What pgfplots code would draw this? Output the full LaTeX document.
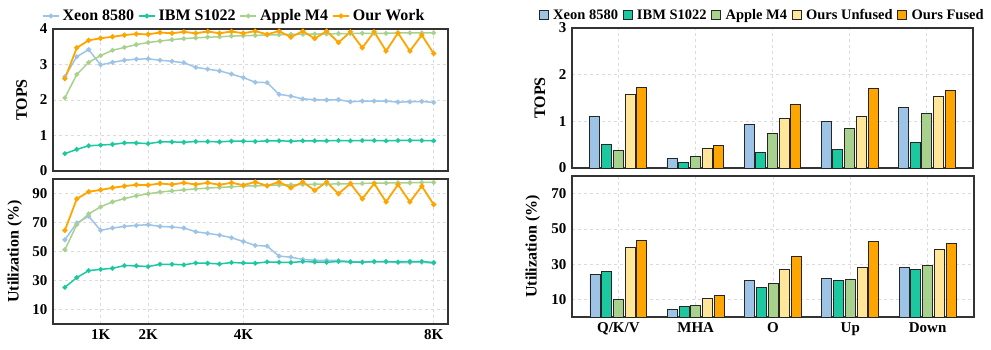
\documentclass[border=0pt]{standalone}
\usepackage{fontspec}
\setmainfont{Liberation Serif}
\usepackage{pgfplots}
\pgfplotsset{compat=1.18}
\usepackage{pgfplotstable}

\definecolor{cXeon}{HTML}{9DC3E6}
\definecolor{cIBM}{HTML}{1CC8A0}
\definecolor{cApple}{HTML}{A9D18E}
\definecolor{cOurs}{HTML}{FFA500}
\definecolor{cUnf}{HTML}{FFE699}

% GEMM sweep: throughput (TOPS) per matrix size
\pgfplotstableread{
n     xeon  ibm   apple ours
256   2.66  0.49  2.06  2.60
512   3.22  0.61  2.72  3.47
768   3.42  0.71  3.06  3.68
1024  2.99  0.73  3.25  3.74
1280  3.06  0.75  3.40  3.78
1536  3.12  0.79  3.48  3.83
1792  3.15  0.79  3.56  3.86
2048  3.16  0.77  3.62  3.85
2304  3.12  0.82  3.66  3.90
2560  3.09  0.82  3.70  3.88
2816  3.05  0.81  3.73  3.92
3072  2.92  0.83  3.75  3.88
3328  2.87  0.83  3.77  3.93
3584  2.82  0.82  3.78  3.88
3840  2.73  0.84  3.80  3.93
4096  2.63  0.84  3.81  3.88
4352  2.50  0.83  3.82  3.94
4608  2.49  0.85  3.83  3.85
4864  2.16  0.85  3.84  3.94
5120  2.11  0.84  3.85  3.77
5376  2.03  0.85  3.85  3.94
5632  2.01  0.85  3.86  3.73
5888  2.00  0.85  3.86  3.94
6144  2.01  0.86  3.87  3.62
6400  1.95  0.85  3.87  3.92
6656  1.97  0.86  3.88  3.47
6912  1.97  0.86  3.88  3.92
7168  1.97  0.85  3.88  3.38
7424  1.94  0.86  3.89  3.89
7680  1.95  0.86  3.89  3.38
7936  1.96  0.86  3.89  3.83
8192  1.93  0.85  3.89  3.31
}\sweepTops

% GEMM sweep: utilization (%) per matrix size
\pgfplotstableread{
n     xeon  ibm   apple ours
256   58.1  25.3  51.2  64.6
512   69.7  32.0  68.5  86.3
768   74.3  36.8  75.9  91.2
1024  64.6  37.7  80.8  92.5
1280  66.2  38.4  84.2  93.9
1536  67.3  40.3  86.5  95.1
1792  68.0  40.1  88.4  96.0
2048  68.5  39.6  89.8  95.8
2304  67.3  41.2  91.0  96.9
2560  66.9  41.2  91.8  96.2
2816  66.2  40.8  92.5  97.4
3072  63.6  42.1  93.2  96.2
3328  62.5  41.9  93.7  97.4
3584  61.3  41.4  94.2  96.0
3840  59.5  42.4  94.6  97.4
4096  56.9  42.1  95.1  95.8
4352  54.2  41.9  95.3  97.9
4608  53.7  42.8  95.5  95.3
4864  46.8  42.6  95.8  97.9
5120  46.1  42.4  96.0  93.9
5376  44.5  43.1  96.2  97.9
5632  44.0  42.8  96.4  92.1
5888  43.8  42.6  96.4  97.9
6144  43.8  43.1  96.7  89.8
6400  43.1  42.8  96.7  96.9
6656  42.8  42.6  96.9  86.3
6912  42.8  43.1  97.2  96.9
7168  42.8  43.1  97.2  84.2
7424  42.4  42.8  97.4  96.2
7680  42.4  43.1  97.4  84.2
7936  42.6  43.1  97.6  95.1
8192  41.9  42.4  97.6  82.4
}\sweepUtil

% Per-layer results (0 Q/K/V, 1 MHA, 2 O, 3 Up, 4 Down)
\pgfplotstableread{
i  xeon  ibm   apple unf   fused
0  1.11  0.51  0.38  1.57  1.73
1  0.20  0.11  0.25  0.41  0.48
2  0.94  0.34  0.74  1.06  1.36
3  0.99  0.40  0.85  1.11  1.71
4  1.29  0.54  1.17  1.54  1.66
}\layerTops

\pgfplotstableread{
i  xeon  ibm   apple unf   fused
0  24.3  26.0  10.0  39.5  43.3
1  4.5   5.8   6.4   10.4  12.1
2  20.5  17.0  18.8  27.0  34.4
3  21.8  20.5  21.4  27.9  43.0
4  28.1  26.8  29.2  38.6  41.8
}\layerUtil

\pgfplotsset{
  panel/.style={
    scale only axis, anchor=south west,
    axis line style={black!80, line width=1.1pt},
    major tick length=0pt,
    xmajorgrids, ymajorgrids,
    grid style={dashed, black!14, line width=0.6pt},
    /pgf/number format/assume math mode=true,
    tick label style={font=\fontsize{15}{15}\selectfont\bfseries},
    yticklabel style={xshift=-2pt},
    xticklabel style={yshift=-2pt},
    label style={font=\fontsize{16}{16}\selectfont\bfseries},
  },
  sweep/.style={panel, xmin=0, xmax=8500, xtick={1024,2048,4096,8192}},
  ln/.style={line width=1.5pt, mark=*, mark size=1.6pt, color=#1},
  layers/.style={panel, xmin=-0.6, xmax=4.6, xtick={0,1,2,3,4},
    ybar=1.7pt, bar width=10pt, ymin=0},
  br/.style={fill=#1, draw=black!85, line width=0.9pt},
  toplegend/.style={legend style={draw=none, fill=none, legend columns=-1,
    inner sep=0pt, nodes={inner sep=0.5pt},
    /tikz/every odd column/.append style={column sep=2.5pt},
    /tikz/every even column/.append style={column sep=3.5pt}}},
}

\begin{document}
\begin{tikzpicture}
\useasboundingbox (0,0) rectangle (991pt,349pt);

% ---- left: throughput sweep ----
\begin{axis}[sweep, at={(53pt,178pt)}, width=395pt, height=142pt,
  ymin=0, ymax=4, ytick={0,1,2,3,4}, xticklabels={},
  ylabel={TOPS},
  ylabel style={at={(axis description cs:-0.066,0.5)}, anchor=base},
  legend image code/.code={\draw[#1, mark repeat=2, mark phase=2]
     plot coordinates {(0pt,0pt) (8pt,0pt) (16pt,0pt)};},
  toplegend,
  legend style={font=\fontsize{16}{16}\selectfont\bfseries,
    at={(0.457,1)}, anchor=south, yshift=6pt},
]
\addplot[ln=cXeon] table[x=n, y=xeon] {\sweepTops};
\addplot[ln=cIBM] table[x=n, y=ibm] {\sweepTops};
\addplot[ln=cApple] table[x=n, y=apple] {\sweepTops};
\addplot[ln=cOurs, line width=1.8pt] table[x=n, y=ours] {\sweepTops};
\legend{Xeon 8580, IBM S1022, Apple M4, Our Work}
\end{axis}

% ---- left: utilization sweep ----
\begin{axis}[sweep, at={(53pt,25pt)}, width=395pt, height=145pt,
  ymin=0, ymax=100, ytick={10,30,50,70,90}, xticklabels={1K,2K,4K,8K},
  ylabel={Utilization (\%)},
  ylabel style={at={(axis description cs:-0.087,0.5)}, anchor=base},
]
\addplot[ln=cXeon] table[x=n, y=xeon] {\sweepUtil};
\addplot[ln=cIBM] table[x=n, y=ibm] {\sweepUtil};
\addplot[ln=cApple] table[x=n, y=apple] {\sweepUtil};
\addplot[ln=cOurs, line width=1.8pt] table[x=n, y=ours] {\sweepUtil};
\end{axis}

% ---- right: per-layer throughput ----
\begin{axis}[layers, at={(572pt,181pt)}, width=401pt, height=140pt,
  ymax=3, ytick={0,1,2,3}, xticklabels={},
  ylabel={TOPS},
  ylabel style={at={(axis description cs:-0.067,0.5)}, anchor=base},
  legend image code/.code={\draw[#1] (0pt,-4.5pt) rectangle (9pt,4.5pt);},
  toplegend,
  legend style={font=\fontsize{14.5}{14.5}\selectfont\bfseries,
    at={(0.4726,1)}, anchor=south, yshift=6pt,
    /tikz/every odd column/.append style={column sep=4pt},
    /tikz/every even column/.append style={column sep=4pt}},
]
\addplot[br=cXeon] table[x=i, y=xeon] {\layerTops};
\addplot[br=cIBM] table[x=i, y=ibm] {\layerTops};
\addplot[br=cApple] table[x=i, y=apple] {\layerTops};
\addplot[br=cUnf] table[x=i, y=unf] {\layerTops};
\addplot[br=cOurs] table[x=i, y=fused] {\layerTops};
\legend{Xeon 8580, IBM S1022, Apple M4, Ours Unfused, Ours Fused}
\end{axis}

% ---- right: per-layer utilization ----
\begin{axis}[layers, at={(572pt,32pt)}, width=402pt, height=141pt,
  ymax=80, ytick={10,30,50,70},
  xticklabels={Q/K/V, MHA, O, Up, Down},
  ylabel={Utilization (\%)},
  ylabel style={at={(axis description cs:-0.088,0.5)}, anchor=base},
]
\addplot[br=cXeon] table[x=i, y=xeon] {\layerUtil};
\addplot[br=cIBM] table[x=i, y=ibm] {\layerUtil};
\addplot[br=cApple] table[x=i, y=apple] {\layerUtil};
\addplot[br=cUnf] table[x=i, y=unf] {\layerUtil};
\addplot[br=cOurs] table[x=i, y=fused] {\layerUtil};
\end{axis}
\end{tikzpicture}
\end{document}
